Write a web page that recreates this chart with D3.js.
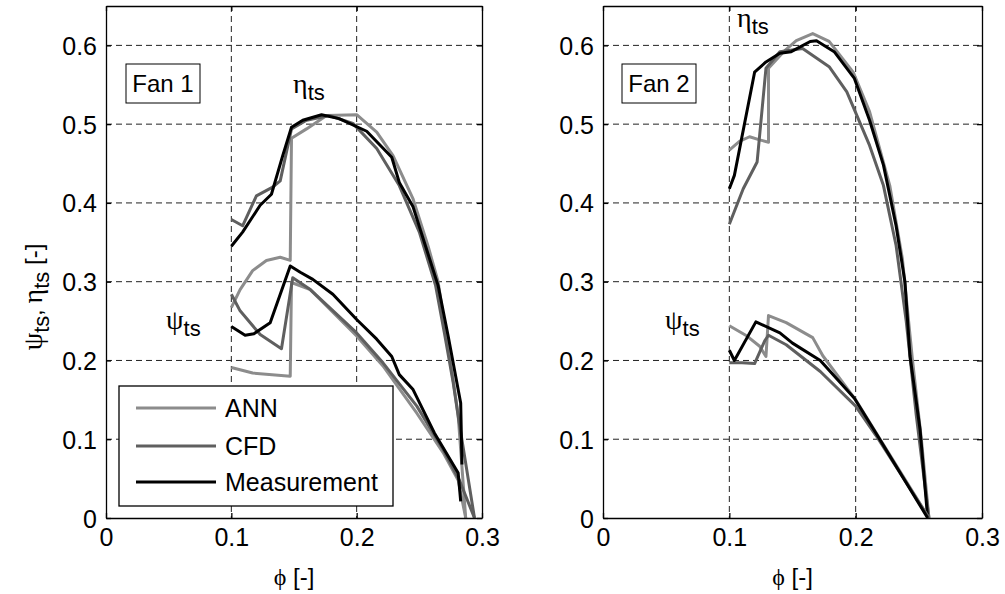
<!DOCTYPE html>
<html>
<head>
<meta charset="utf-8">
<script src="https://cdn.jsdelivr.net/npm/d3@7"></script>
<style>
  body { margin: 0; background: #fff; }
  text { font-family: Arial, "Liberation Sans", sans-serif; fill: #000; }
  .greek { font-family: "Liberation Serif", "DejaVu Serif", serif; font-size: 28px; }
</style>
</head>
<body>
<script>
// [phi, value] pairs
const fan1AnnEta = [[0.100,0.267],[0.107,0.290],[0.117,0.314],[0.128,0.327],[0.139,0.331],[0.147,0.327],[0.148,0.482],[0.160,0.494],[0.176,0.511],[0.200,0.512],[0.216,0.490],[0.229,0.460],[0.245,0.405],[0.257,0.345],[0.265,0.300],[0.270,0.245],[0.277,0.175],[0.281,0.130],[0.287,0.000]];
const fan1CfdEta = [[0.100,0.379],[0.109,0.371],[0.120,0.409],[0.133,0.420],[0.139,0.428],[0.148,0.494],[0.160,0.505],[0.178,0.511],[0.197,0.501],[0.216,0.469],[0.234,0.422],[0.250,0.363],[0.263,0.295],[0.270,0.235],[0.277,0.172],[0.281,0.129],[0.294,0.000]];
const fan1MeasEta = [[0.100,0.345],[0.109,0.363],[0.123,0.397],[0.132,0.411],[0.141,0.460],[0.148,0.496],[0.157,0.505],[0.172,0.512],[0.186,0.507],[0.208,0.491],[0.228,0.458],[0.234,0.426],[0.245,0.395],[0.265,0.295],[0.273,0.231],[0.279,0.180],[0.283,0.146],[0.284,0.068]];
const fan1AnnPsi = [[0.100,0.191],[0.117,0.184],[0.147,0.180],[0.148,0.299],[0.163,0.290],[0.200,0.231],[0.221,0.193],[0.248,0.133],[0.269,0.083],[0.281,0.048],[0.287,0.000]];
const fan1CfdPsi = [[0.100,0.284],[0.107,0.263],[0.123,0.233],[0.140,0.215],[0.149,0.305],[0.163,0.290],[0.200,0.235],[0.221,0.197],[0.248,0.142],[0.269,0.087],[0.282,0.048],[0.294,0.000]];
const fan1MeasPsi = [[0.100,0.243],[0.111,0.232],[0.118,0.234],[0.131,0.248],[0.147,0.320],[0.155,0.312],[0.165,0.303],[0.181,0.284],[0.200,0.252],[0.216,0.227],[0.228,0.205],[0.234,0.182],[0.245,0.163],[0.262,0.108],[0.281,0.057],[0.283,0.021]];

const fan2AnnEta = [[0.100,0.467],[0.108,0.478],[0.116,0.484],[0.124,0.480],[0.131,0.477],[0.131,0.571],[0.143,0.592],[0.153,0.606],[0.166,0.615],[0.179,0.605],[0.198,0.566],[0.211,0.516],[0.227,0.422],[0.237,0.329],[0.245,0.200],[0.252,0.100],[0.258,0.000]];
const fan2CfdEta = [[0.100,0.373],[0.111,0.418],[0.122,0.452],[0.129,0.571],[0.140,0.592],[0.158,0.596],[0.179,0.573],[0.193,0.541],[0.211,0.473],[0.222,0.422],[0.232,0.346],[0.240,0.250],[0.248,0.130],[0.258,0.000]];
const fan2MeasEta = [[0.100,0.418],[0.104,0.435],[0.120,0.566],[0.129,0.579],[0.140,0.590],[0.149,0.592],[0.164,0.605],[0.169,0.606],[0.183,0.592],[0.199,0.558],[0.211,0.505],[0.222,0.448],[0.232,0.371],[0.239,0.300],[0.243,0.206],[0.251,0.112],[0.257,0.000]];
const fan2AnnPsi = [[0.100,0.244],[0.114,0.231],[0.124,0.218],[0.129,0.205],[0.131,0.257],[0.145,0.248],[0.166,0.229],[0.174,0.206],[0.200,0.150],[0.258,0.000]];
const fan2CfdPsi = [[0.100,0.197],[0.110,0.197],[0.120,0.196],[0.128,0.225],[0.131,0.232],[0.145,0.220],[0.172,0.186],[0.200,0.142],[0.216,0.105],[0.258,0.000]];
const fan2MeasPsi = [[0.100,0.213],[0.104,0.200],[0.121,0.249],[0.140,0.235],[0.150,0.222],[0.172,0.200],[0.199,0.152],[0.216,0.108],[0.257,0.000]];

const seriesNames = ['ANN', 'CFD', 'Measurement'];
const seriesColors = ['#8c8c8c', '#5f5f5f', '#000000'];
const xTicks = [0, 0.1, 0.2, 0.3];
const yTicks = [0, 0.1, 0.2, 0.3, 0.4, 0.5, 0.6];

const width = 1005, height = 594;
const plotTop = 6, plotBottom = 518;

const panels = [
  { name: 'Fan 1', left: 106, right: 482,
    lines: [fan1AnnEta, fan1CfdEta, fan1MeasEta, fan1AnnPsi, fan1CfdPsi, fan1MeasPsi],
    eta: [293, 93], psi: [166, 329], box: [126, 64] },
  { name: 'Fan 2', left: 603, right: 982,
    lines: [fan2AnnEta, fan2CfdEta, fan2MeasEta, fan2AnnPsi, fan2CfdPsi, fan2MeasPsi],
    eta: [737, 27], psi: [665, 329], box: [622, 64] },
];

const svg = d3.select('body').append('svg')
  .attr('width', width)
  .attr('height', height);

const y = d3.scaleLinear().domain([0, 0.65]).range([plotBottom, plotTop]);

function greekLabel(g, x0, y0, letter, sub) {
  const t = g.append('text').attr('x', x0).attr('y', y0).style('font-size', '22px');
  t.append('tspan').attr('class', 'greek').text(letter);
  t.append('tspan').attr('dy', 7).text(sub);
}

panels.forEach(p => {
  const x = d3.scaleLinear().domain([0, 0.3]).range([p.left, p.right]);
  const g = svg.append('g');

  // dashed grid
  g.selectAll('.gx').data(xTicks.slice(1, -1)).enter().append('line')
    .attr('x1', d => x(d)).attr('x2', d => x(d))
    .attr('y1', plotTop).attr('y2', plotBottom)
    .attr('stroke', '#222').attr('stroke-dasharray', '6,4');
  g.selectAll('.gy').data(yTicks.slice(1)).enter().append('line')
    .attr('x1', p.left).attr('x2', p.right)
    .attr('y1', d => y(d)).attr('y2', d => y(d))
    .attr('stroke', '#222').attr('stroke-dasharray', '6,4');

  // curves
  const line = d3.line().x(d => x(d[0])).y(d => y(d[1]));
  p.lines.forEach((data, i) => {
    g.append('path').datum(data)
      .attr('d', line)
      .attr('fill', 'none')
      .attr('stroke', seriesColors[i % 3])
      .attr('stroke-width', 3)
      .attr('stroke-linejoin', 'round');
  });

  // axes with inward ticks on all four sides
  const bottomAxis = g.append('g').attr('transform', 'translate(0,' + plotBottom + ')')
    .call(d3.axisBottom(x).tickValues(xTicks).tickFormat(d3.format('')).tickSizeInner(-5).tickSizeOuter(0).tickPadding(10));
  const leftAxis = g.append('g').attr('transform', 'translate(' + p.left + ',0)')
    .call(d3.axisLeft(y).tickValues(yTicks).tickFormat(d3.format('')).tickSizeInner(-5).tickSizeOuter(0).tickPadding(9));
  g.append('g').attr('transform', 'translate(0,' + plotTop + ')')
    .call(d3.axisTop(x).tickValues(xTicks).tickFormat('').tickSizeInner(-5).tickSizeOuter(0));
  g.append('g').attr('transform', 'translate(' + p.right + ',0)')
    .call(d3.axisRight(y).tickValues(yTicks).tickFormat('').tickSizeInner(-5).tickSizeOuter(0));
  g.selectAll('.domain, .tick line').attr('stroke', '#000').attr('stroke-width', 1.3);
  g.selectAll('.tick text').style('font-size', '25px').style('font-family', 'Arial, "Liberation Sans", sans-serif');
  bottomAxis.selectAll('.tick text').attr('dy', '0.72em');
  leftAxis.selectAll('.tick text').attr('dy', '0.36em');

  // fan label box
  g.append('rect').attr('x', p.box[0]).attr('y', p.box[1]).attr('width', 74).attr('height', 39)
    .attr('fill', '#fff').attr('stroke', '#000').attr('stroke-width', 1);
  g.append('text').attr('x', p.box[0] + 37).attr('y', p.box[1] + 28)
    .attr('text-anchor', 'middle').style('font-size', '24px').text(p.name);

  greekLabel(g, p.eta[0], p.eta[1], 'η', 'ts');
  greekLabel(g, p.psi[0], p.psi[1], 'ψ', 'ts');

  // x label
  const xl = g.append('text').attr('x', (p.left + p.right) / 2).attr('y', 585)
    .attr('text-anchor', 'middle').style('font-size', '24px');
  xl.append('tspan').attr('class', 'greek').style('font-size', '24px').text('ϕ');
  xl.append('tspan').text(' [-]');
});

// y axis label
const yl = svg.append('text')
  .attr('transform', 'translate(42,297) rotate(-90)')
  .attr('text-anchor', 'middle')
  .style('font-size', '22px');
yl.append('tspan').attr('class', 'greek').text('ψ');
yl.append('tspan').attr('dy', 7).text('ts');
yl.append('tspan').attr('dy', -7).text(', ');
yl.append('tspan').attr('class', 'greek').text('η');
yl.append('tspan').attr('dy', 7).text('ts');
yl.append('tspan').attr('dy', -7).style('font-size', '24px').text(' [-]');

// legend in the first panel
const legend = svg.append('g');
legend.append('rect').attr('x', 119).attr('y', 386).attr('width', 274).attr('height', 120)
  .attr('fill', '#fff').attr('stroke', '#000').attr('stroke-width', 1.3);
const rows = [408, 446, 482];
seriesNames.forEach((name, i) => {
  legend.append('line').attr('x1', 136).attr('x2', 216).attr('y1', rows[i]).attr('y2', rows[i])
    .attr('stroke', seriesColors[i]).attr('stroke-width', 3);
  legend.append('text').attr('x', 225).attr('y', rows[i] + 9).style('font-size', '25px').text(name);
});
</script>
</body>
</html>
